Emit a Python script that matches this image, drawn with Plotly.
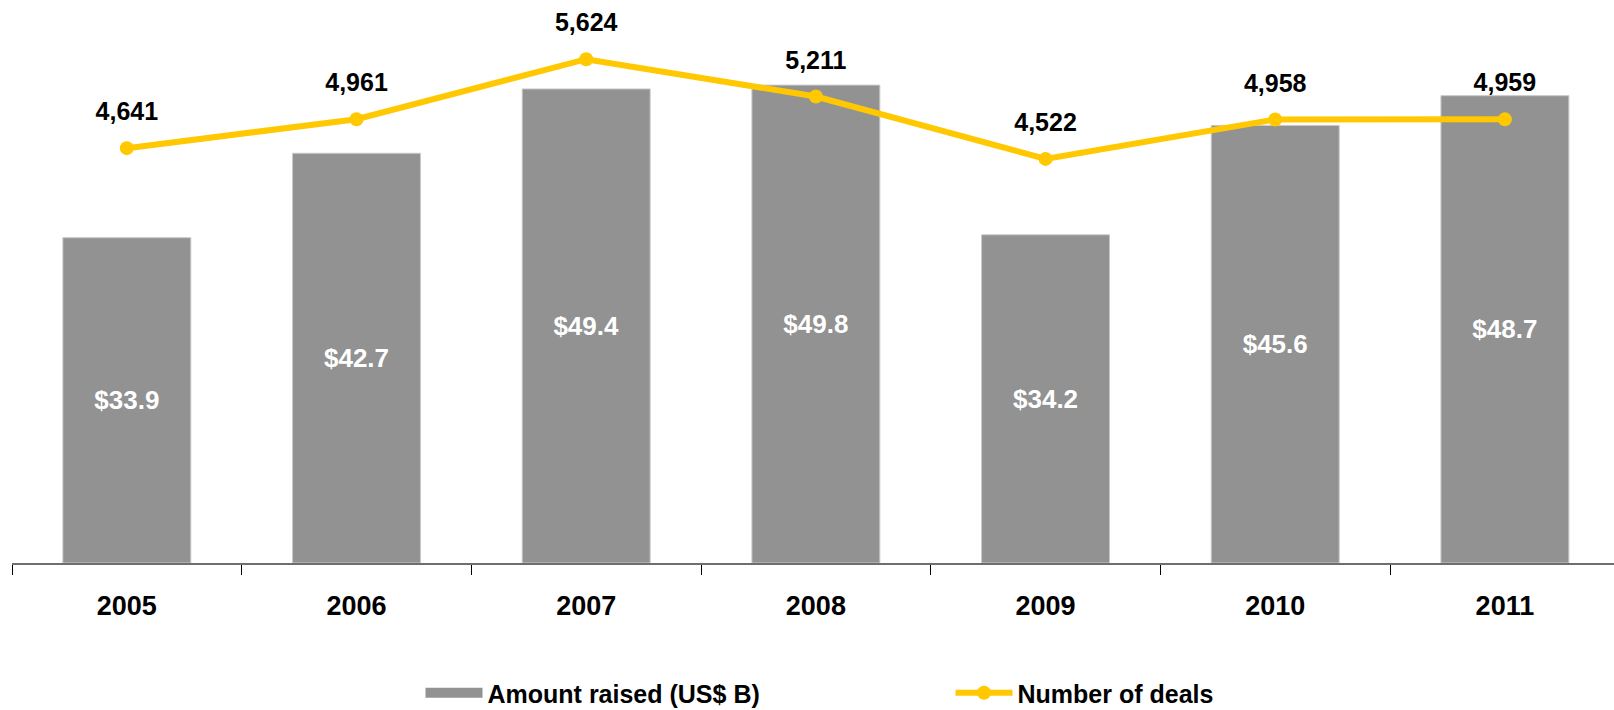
import plotly.graph_objects as go

# Yearly venture data
years = ["2005", "2006", "2007", "2008", "2009", "2010", "2011"]
amount_raised = [33.9, 42.7, 49.4, 49.8, 34.2, 45.6, 48.7]   # US$ B
deal_counts = [4641, 4961, 5624, 5211, 4522, 4958, 4959]

BAR_GREY = "#929292"
GOLD = "#FFC800"
BOLD = "Liberation Sans, Arial, sans-serif"

fig = go.Figure()

fig.add_trace(go.Bar(
    x=years,
    y=amount_raised,
    name="Amount raised (US$ B)",
    legendgroup="amount",
    showlegend=False,
    marker=dict(color=BAR_GREY, line=dict(color="#c8c8c8", width=1)),
    width=0.557,
    texttemplate="$%{y:.1f}",
    textposition="inside",
    insidetextanchor="middle",
    textangle=0,
    constraintext="none",
    textfont=dict(family=BOLD, size=26, color="white", weight="bold"),
    hoverinfo="skip",
))

# Wide grey swatch for the bar series' legend entry
fig.add_trace(go.Scatter(
    x=[None],
    y=[None],
    name="Amount raised (US$ B)",
    legendgroup="amount",
    mode="lines",
    line=dict(color=BAR_GREY, width=14),
    hoverinfo="skip",
))

fig.add_trace(go.Scatter(
    x=years,
    y=deal_counts,
    name="Number of deals",
    yaxis="y2",
    mode="lines+markers",
    line=dict(color=GOLD, width=6),
    marker=dict(color=GOLD, size=14),
    cliponaxis=False,
    hoverinfo="skip",
))

# Deal-count labels: transparent wide markers push the text clear of the line
fig.add_trace(go.Scatter(
    x=years,
    y=deal_counts,
    yaxis="y2",
    mode="markers+text",
    text=[f"{n:,}" for n in deal_counts],
    textposition="top center",
    textfont=dict(family=BOLD, size=25, color="black", weight="bold"),
    marker=dict(color="rgba(0,0,0,0)", size=33),
    showlegend=False,
    cliponaxis=False,
    hoverinfo="skip",
))

fig.update_layout(
    width=1614,
    height=710,
    margin=dict(l=12, r=0, t=0, b=147, autoexpand=False),
    paper_bgcolor="white",
    plot_bgcolor="white",
    bargap=0.443,
    showlegend=True,
    legend=dict(
        orientation="h",
        x=0.255,
        xanchor="left",
        y=-0.2718,
        yanchor="bottom",
        font=dict(family=BOLD, size=25, color="black", weight="bold"),
        itemwidth=57,
        entrywidth=458,
        bgcolor="rgba(0,0,0,0)",
        traceorder="normal",
    ),
    xaxis=dict(
        type="category",
        range=[-0.5, 6.475],
        showgrid=False,
        showline=True,
        linecolor="#6e6e6e",
        linewidth=2,
        ticks="outside",
        tickson="boundaries",
        ticklen=10,
        tickwidth=1,
        tickcolor="black",
        ticklabelstandoff=18,
        tickfont=dict(family=BOLD, size=27, color="black", weight="bold"),
        fixedrange=True,
    ),
    yaxis=dict(
        range=[0, 58.67],
        visible=False,
        showgrid=False,
        zeroline=False,
        fixedrange=True,
    ),
    yaxis2=dict(
        range=[57, 6278],
        overlaying="y",
        visible=False,
        showgrid=False,
        zeroline=False,
        fixedrange=True,
    ),
)

fig.write_html("out.html")
